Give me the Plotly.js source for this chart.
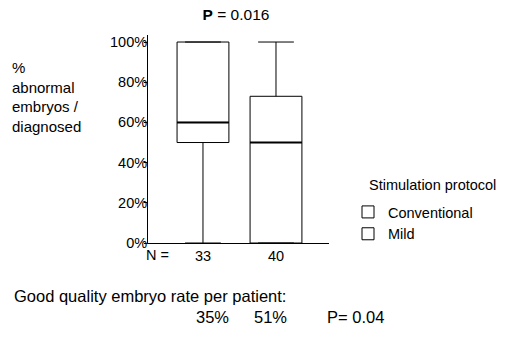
<!DOCTYPE html>
<html>
<head>
<meta charset="utf-8">
<script src="https://cdn.plot.ly/plotly-3.0.1.min.js"></script>
<style>html,body{margin:0;padding:0;background:#fff;}#chart{width:505px;height:338px;}</style>
</head>
<body>
<div id="chart"></div>
<script>
// ---- data ----
const groups = ["Conventional", "Mild"];
const nLabels = ["33", "40"];
const lowerFence = [0, 0];
const q1 = [50, 0];
const medians = [60, 50];
const q3 = [100, 73];
const upperFence = [100, 100];
const yTickVals = [0, 20, 40, 60, 80, 100];
const yTickText = ["0%", "20%", "40%", "60%", "80%", "100%"];
const rates = ["35%", "51%"];
const pMain = "0.016";
const pRate = "0.04";

// ---- styling ----
const FONT = "Arial, 'Liberation Sans', sans-serif";
const BOXW = 0.71;
const positions = groups.map((g, i) => i);

const traces = groups.map((g, i) => ({
  type: "box",
  name: g,
  x: [positions[i]],
  q1: [q1[i]], median: [medians[i]], q3: [q3[i]],
  lowerfence: [lowerFence[i]], upperfence: [upperFence[i]],
  boxpoints: false,
  width: BOXW,
  whiskerwidth: 0.69,
  fillcolor: "rgba(255,255,255,1)",
  line: {color: "#000", width: 1},
  hoverinfo: "skip"
}));
// thicker median lines
groups.forEach((g, i) => {
  traces.push({
    type: "scatter", mode: "lines",
    x: [positions[i] - BOXW / 2, positions[i] + BOXW / 2],
    y: [medians[i], medians[i]],
    line: {color: "#000", width: 2},
    showlegend: false, hoverinfo: "skip"
  });
});

const layout = {
  width: 505, height: 338,
  margin: {l: 148, r: 176, t: 35, b: 95},
  paper_bgcolor: "#fff", plot_bgcolor: "#fff",
  font: {family: FONT, size: 14.5, color: "#000"},
  showlegend: true,
  title: {text: "<b>P</b> = " + pMain, x: (236 - 148) / 181, xref: "paper", xanchor: "center",
          y: 1 - 15 / 338, yanchor: "middle",
          font: {family: FONT, size: 15.5, color: "#000"}},
  xaxis: {
    range: [-0.753, 1.726], tickvals: positions, ticktext: nLabels,
    showline: true, linecolor: "#000", linewidth: 1, ticks: "",
    showgrid: false, zeroline: false, fixedrange: true,
    tickfont: {family: FONT, size: 14.5, color: "#000"}
  },
  yaxis: {
    range: [0, 103.5], tickvals: yTickVals, ticktext: yTickText,
    showline: true, linecolor: "#000", linewidth: 1, ticks: "outside", ticklen: 3, tickcolor: "#000",
    ticklabelstandoff: -6,
    showgrid: false, zeroline: false, fixedrange: true,
    tickfont: {family: FONT, size: 14.5, color: "#000"}
  },
  legend: {
    x: 1.105, xanchor: "left", y: 0.226, yanchor: "top",
    font: {family: FONT, size: 14.5, color: "#000"},
    bgcolor: "rgba(0,0,0,0)", tracegroupgap: 0
  },
  annotations: [
    {text: "%<br>abnormal<br>embryos /<br>diagnosed", xref: "paper", yref: "paper",
     x: (10 - 148) / 181, xanchor: "left", y: (243 - 97) / 208, yanchor: "middle",
     align: "left", showarrow: false, font: {family: FONT, size: 15, color: "#000"}},
    {text: "N =", xref: "paper", yref: "paper", x: (157 - 148) / 181, xanchor: "center",
     y: (243 - 255) / 208, yanchor: "middle", showarrow: false,
     font: {family: FONT, size: 14.5, color: "#000"}},
    {text: "Stimulation protocol", xref: "paper", yref: "paper", x: (367 - 148) / 181, xanchor: "left",
     y: (243 - 185) / 208, yanchor: "middle", showarrow: false,
     font: {family: FONT, size: 14.5, color: "#000"}},
    {text: "Good quality embryo rate per patient:", xref: "paper", yref: "paper",
     x: (12 - 148) / 181, xanchor: "left", y: (243 - 296) / 208, yanchor: "middle",
     showarrow: false, font: {family: FONT, size: 16.5, color: "#000"}},
    {text: rates[0], xref: "paper", yref: "paper", x: (212 - 148) / 181, xanchor: "center",
     y: (243 - 317) / 208, yanchor: "middle", showarrow: false,
     font: {family: FONT, size: 16.5, color: "#000"}},
    {text: rates[1], xref: "paper", yref: "paper", x: (270 - 148) / 181, xanchor: "center",
     y: (243 - 317) / 208, yanchor: "middle", showarrow: false,
     font: {family: FONT, size: 16.5, color: "#000"}},
    {text: "P= " + pRate, xref: "paper", yref: "paper", x: (325 - 148) / 181, xanchor: "left",
     y: (243 - 317) / 208, yanchor: "middle", showarrow: false,
     font: {family: FONT, size: 16.5, color: "#000"}}
  ]
};

Plotly.newPlot("chart", traces, layout, {displayModeBar: false, staticPlot: true});
</script>
</body>
</html>
